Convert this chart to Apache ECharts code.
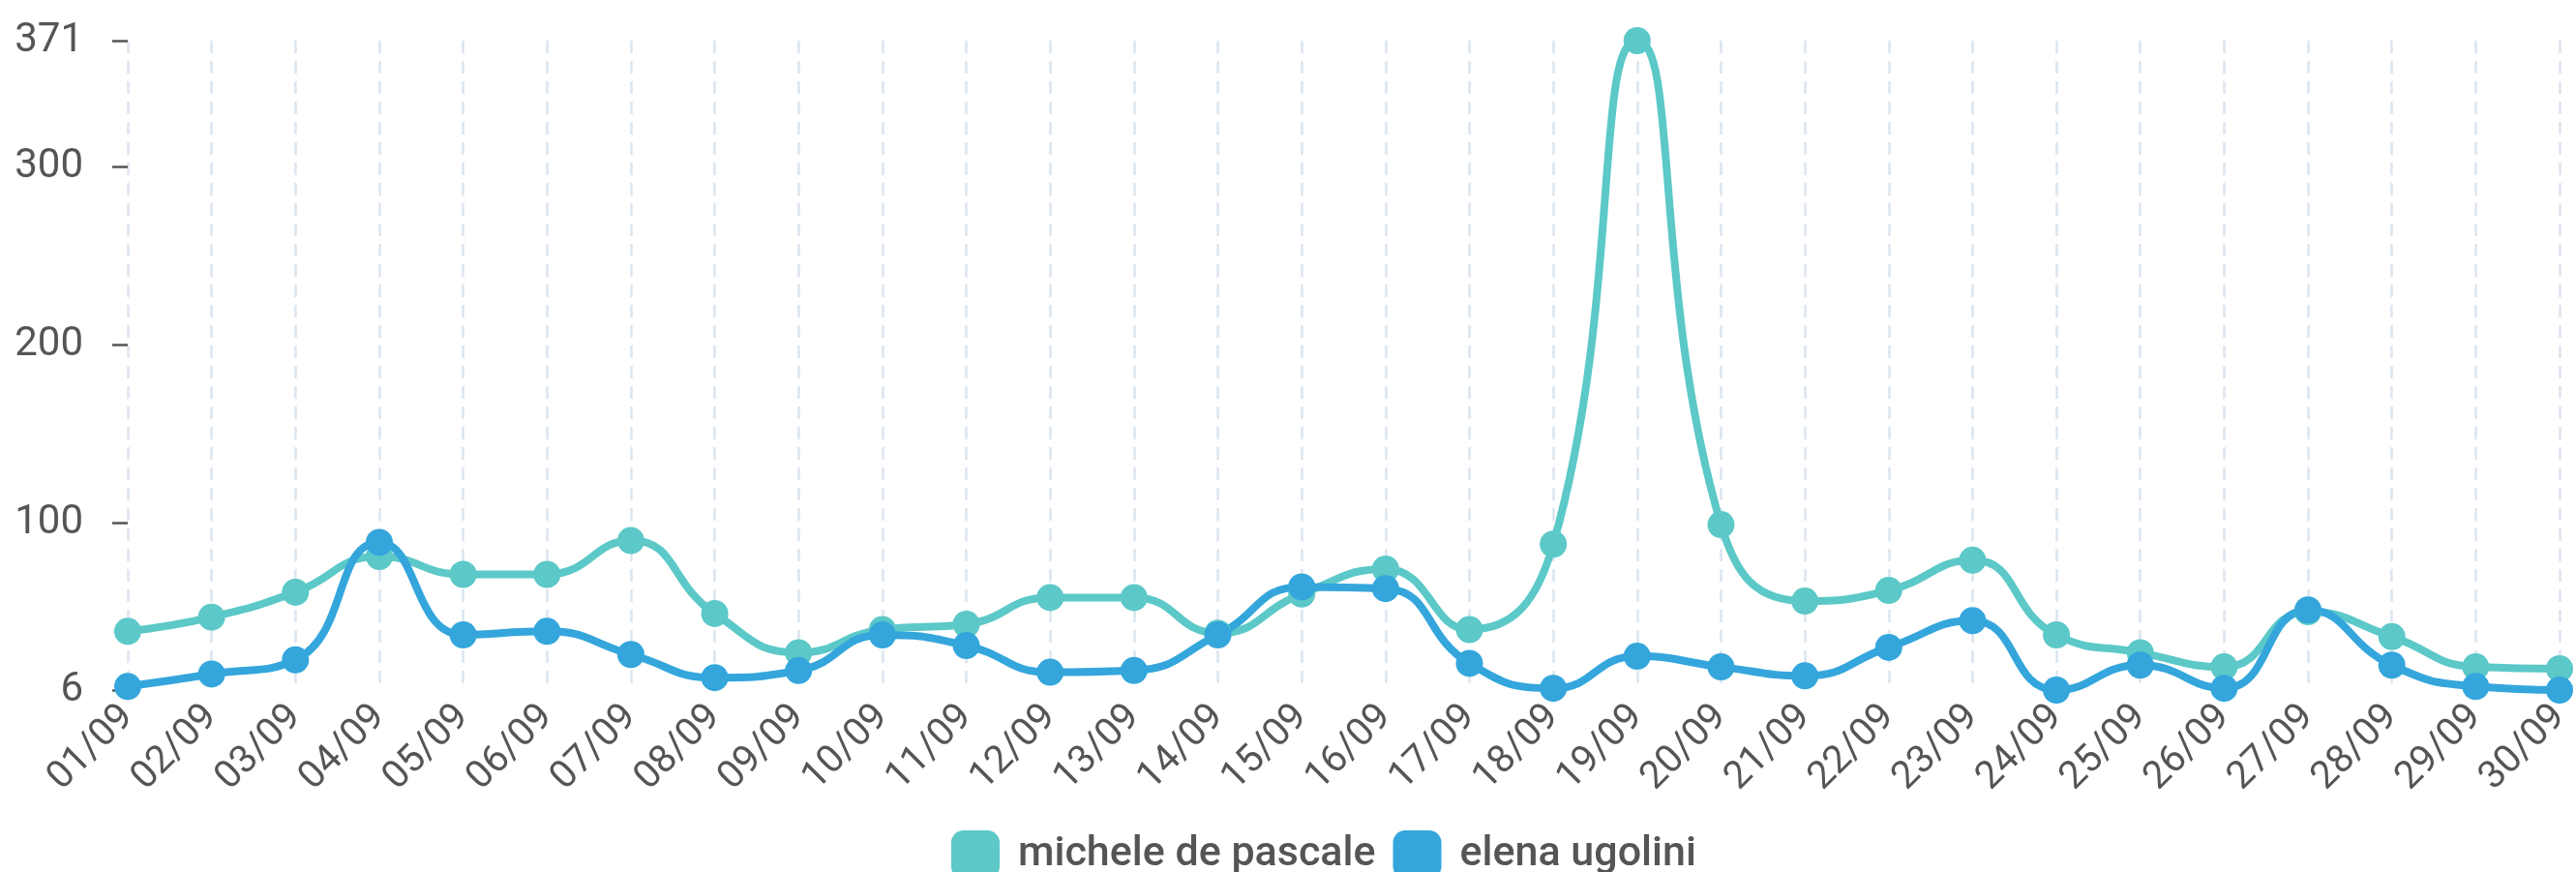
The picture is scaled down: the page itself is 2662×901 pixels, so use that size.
<!DOCTYPE html>
<html>
<head>
<meta charset="utf-8">
<script src="https://cdn.jsdelivr.net/npm/echarts@6/dist/echarts.min.js"></script>
<style>
html,body{margin:0;padding:0;background:#fff;}
#chart{width:2662px;height:901px;}
</style>
</head>
<body>
<div id="chart"></div>
<script>
const categories = ["01/09","02/09","03/09","04/09","05/09","06/09","07/09","08/09","09/09","10/09",
  "11/09","12/09","13/09","14/09","15/09","16/09","17/09","18/09","19/09","20/09",
  "21/09","22/09","23/09","24/09","25/09","26/09","27/09","28/09","29/09","30/09"];
const micheleDePascale = [39, 47, 61, 81, 71, 71, 90, 49, 27, 40, 43, 58, 58, 38, 60, 74, 40, 88, 371, 99, 56, 62, 79, 37, 27, 19, 50, 36, 19, 18];
const elenaUgolini = [8, 15, 23, 89, 37, 39, 26, 13, 17, 37, 31, 16, 17, 37, 64, 63, 21, 7, 25, 19, 14, 30, 45, 6, 20, 7, 51, 20, 8, 6];
const seriesNames = ["michele de pascale", "elena ugolini"];
const colors = ["#5cc8c8", "#34a6dc"];

const chart = echarts.init(document.getElementById('chart'), null, {renderer: 'canvas'});
const font = 'Roboto';
function mkSeries(name, data, color) {
  return {
    name: name, type: 'line', data: data, smooth: true,
    symbol: 'circle', symbolSize: 28, showSymbol: true,
    itemStyle: {color: color},
    lineStyle: {color: color, width: 8},
    emphasis: {disabled: true}
  };
}
chart.setOption({
  animation: false,
  color: colors,
  grid: {left: 132, right: 17, top: 42, bottom: 188, containLabel: false},
  legend: {
    left: 978, top: 853, itemWidth: 50, itemHeight: 50, itemGap: 18,
    icon: 'roundRect',
    textStyle: {fontFamily: font, fontSize: 43, fontWeight: 500, color: '#555', padding: [0, 0, 0, 14]},
    data: seriesNames
  },
  xAxis: {
    type: 'category', data: categories, boundaryGap: false,
    axisLine: {show: false}, axisTick: {show: false},
    axisLabel: {rotate: 45, fontFamily: font, fontSize: 40, color: '#555', margin: 22, interval: 0},
    splitLine: {show: true, lineStyle: {color: '#dbe5f0', width: 2.5, type: [13, 8]}}
  },
  yAxis: {
    type: 'value', min: 'dataMin', max: 'dataMax',
    axisLine: {show: false},
    axisTick: {show: true, length: 16, lineStyle: {color: '#555', width: 2.5}},
    axisLabel: {fontFamily: font, fontSize: 42, color: '#555', margin: 46},
    splitLine: {show: false}
  },
  series: [
    mkSeries(seriesNames[0], micheleDePascale, colors[0]),
    mkSeries(seriesNames[1], elenaUgolini, colors[1])
  ]
});
</script>
</body>
</html>
